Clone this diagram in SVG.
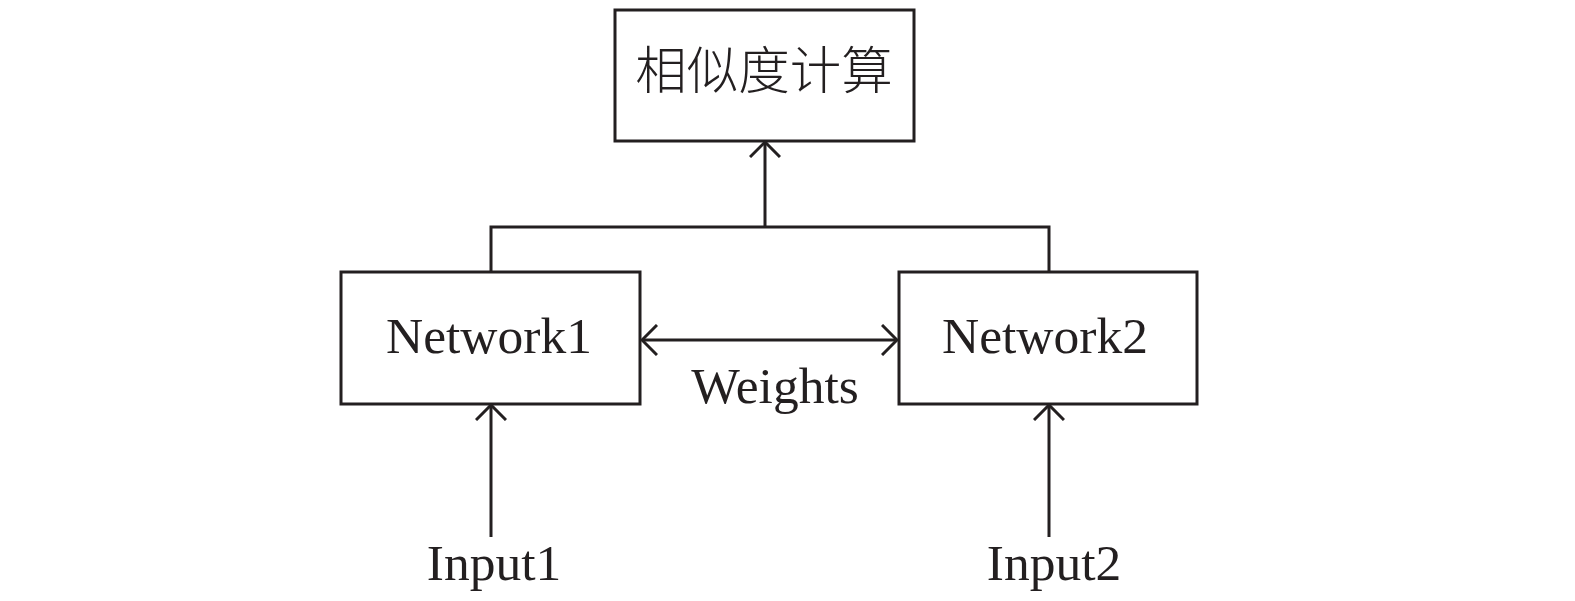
<svg xmlns="http://www.w3.org/2000/svg" width="1575" height="601" viewBox="0 0 1575 601">
<style>
.box{fill:#fff;stroke:#231f20;stroke-width:3}
.ln{fill:none;stroke:#231f20;stroke-width:3}
.t{font-family:"Liberation Serif","Times New Roman",serif;font-size:51.5px;fill:#231f20;text-anchor:middle}
.c{font-family:"Noto Sans CJK SC","Noto Sans",sans-serif;font-size:51.5px;font-weight:300;fill:#231f20;text-anchor:middle}
</style>
<defs>
<marker id="ah" viewBox="-16 -16 18 32" refX="0" refY="0" markerWidth="18" markerHeight="32" markerUnits="userSpaceOnUse" orient="auto-start-reverse">
<path d="M-15,-15 L0,0 L-15,15" fill="none" stroke="#231f20" stroke-width="3"/>
</marker>
</defs>
<g id="sim">
<rect class="box" x="615" y="10" width="299" height="131"/>
<text class="c" x="764" y="89">相似度计算</text>
</g>
<g id="net1">
<rect class="box" x="341" y="272" width="299" height="132"/>
<text class="t" x="489" y="353">Network1</text>
</g>
<g id="net2">
<rect class="box" x="899" y="272" width="298" height="132"/>
<text class="t" x="1045" y="353">Network2</text>
</g>
<g id="in1"><text class="t" x="494" y="580">Input1</text></g>
<g id="in2"><text class="t" x="1054" y="580">Input2</text></g>
<g id="weights"><text class="t" x="775" y="403">Weights</text></g>
<g id="connectors">
<polyline class="ln" points="491,272 491,227 1049,227 1049,272"/>
<line class="ln" x1="765" y1="227" x2="765" y2="142" marker-end="url(#ah)"/>
<line class="ln" x1="642" y1="340" x2="897" y2="340" marker-start="url(#ah)" marker-end="url(#ah)"/>
<line class="ln" x1="491" y1="537" x2="491" y2="405" marker-end="url(#ah)"/>
<line class="ln" x1="1049" y1="537" x2="1049" y2="405" marker-end="url(#ah)"/>
</g>
</svg>
